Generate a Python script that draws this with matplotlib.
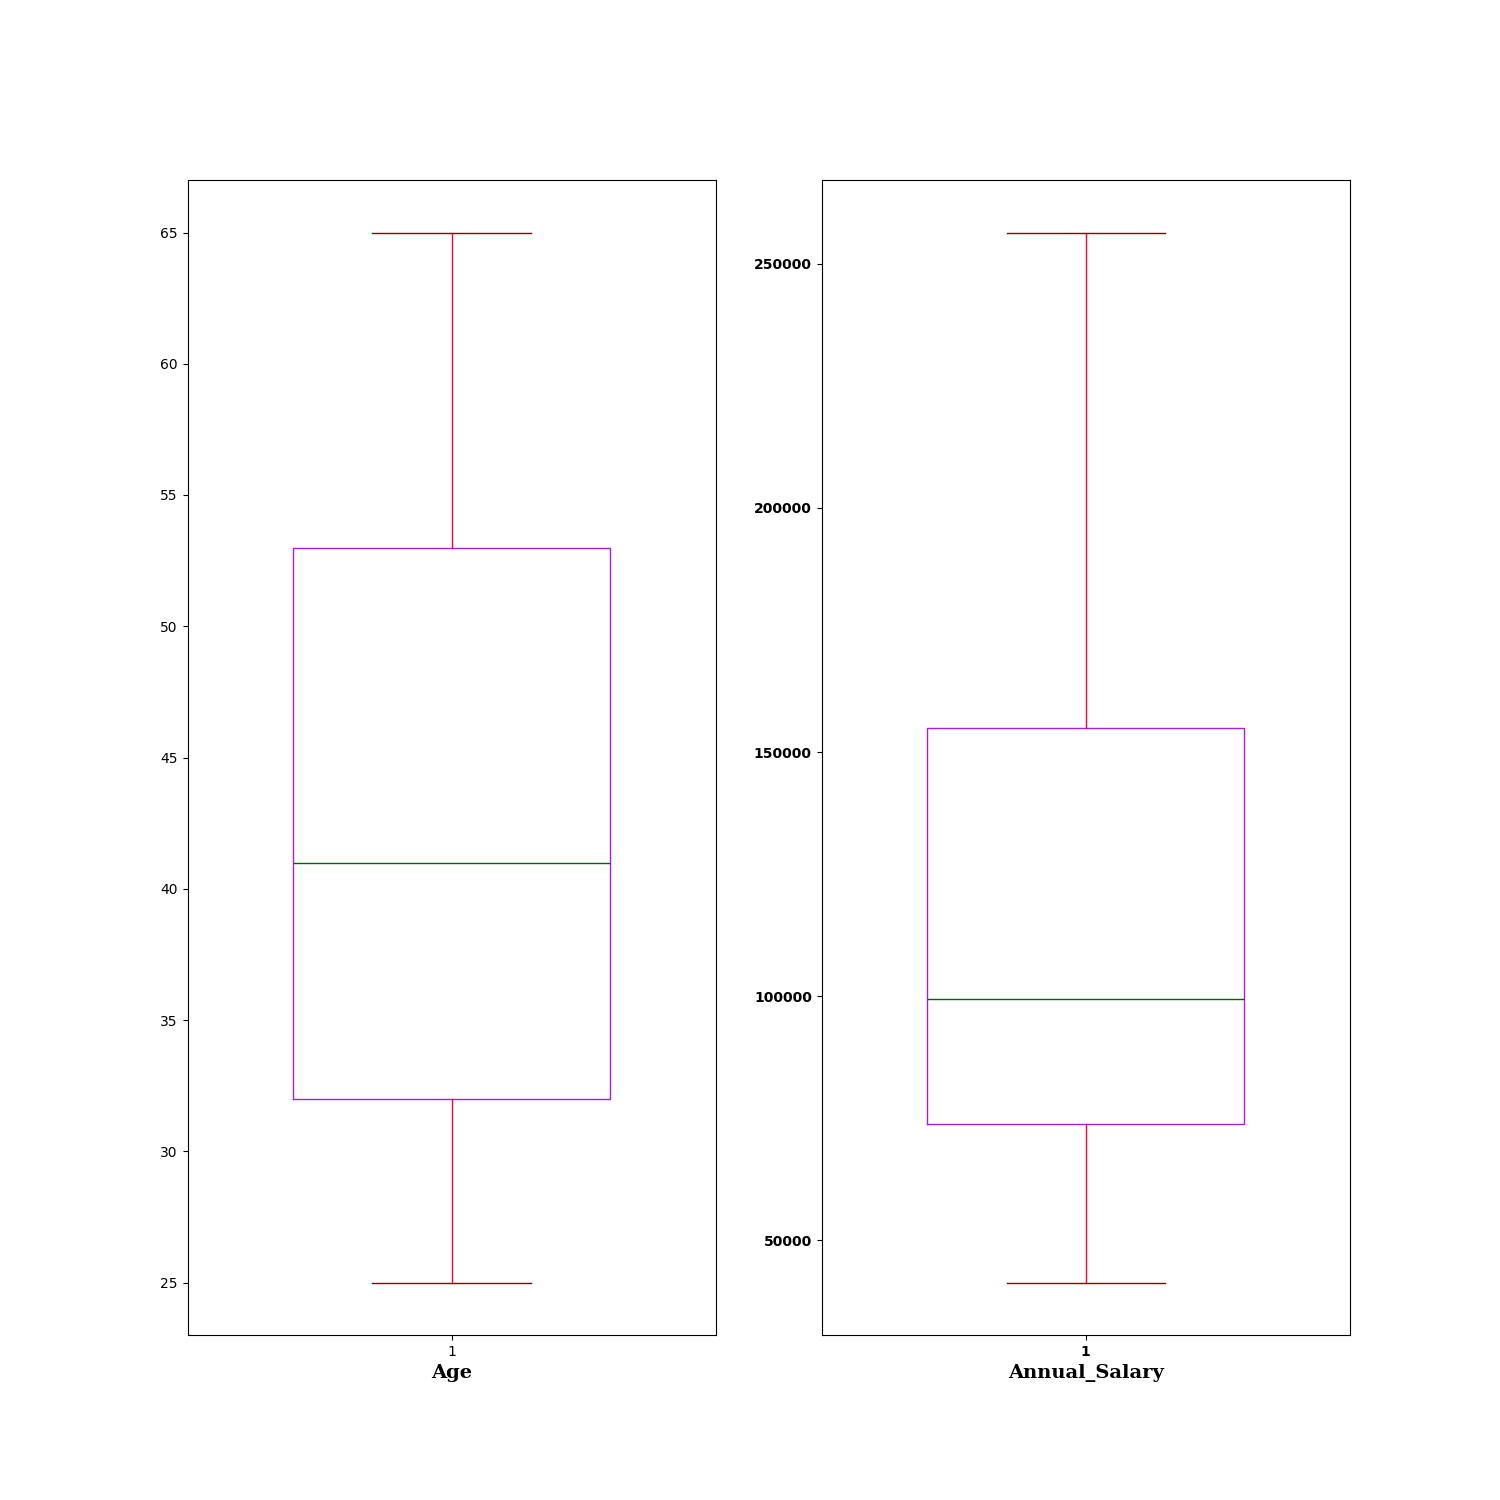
import matplotlib.pyplot as plt

# box statistics
columns = ['Age', 'Annual_Salary']
whisker_low = [25, 41400]
q1 = [32, 73800]
median = [41, 99500]
q3 = [53, 155000]
whisker_high = [65, 256350]

fig, axes = plt.subplots(1, 2, figsize=(15, 15), dpi=100)

for i, ax in enumerate(axes):
    stats = [{
        'whislo': whisker_low[i], 'q1': q1[i], 'med': median[i],
        'q3': q3[i], 'whishi': whisker_high[i], 'fliers': [], 'label': '1',
    }]
    ax.bxp(stats, widths=0.6,
           boxprops=dict(color='#A020F0'),
           whiskerprops=dict(color='#FF0033'),
           capprops=dict(color='#8B0000'),
           medianprops=dict(color='darkgreen'))
    ax.set_xlabel(columns[i], fontsize=14, family='serif', fontweight='bold')

for lbl in axes[1].get_xticklabels() + axes[1].get_yticklabels():
    lbl.set_fontweight('bold')

plt.savefig('out.png')
